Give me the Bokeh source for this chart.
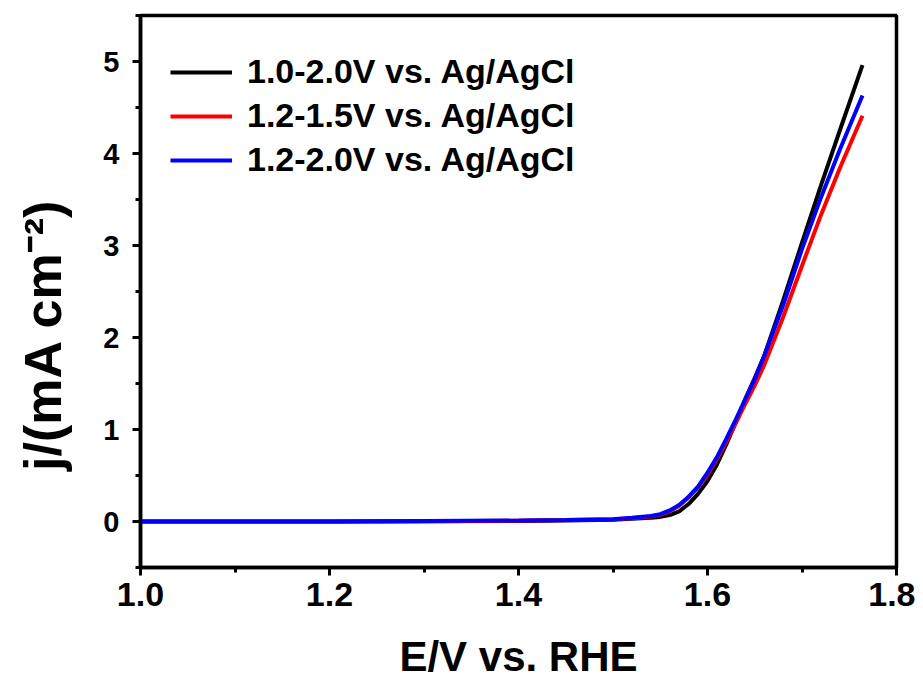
from bokeh.plotting import figure
from bokeh.models import FixedTicker, Range1d, PrintfTickFormatter, Legend, LegendItem
from bokeh.embed import file_html
from bokeh.resources import INLINE

# ---- data ----
E = [1.00, 1.10, 1.20, 1.30, 1.40, 1.45, 1.50, 1.52, 1.54, 1.55, 1.56, 1.57, 1.58,
     1.59, 1.60, 1.61, 1.62, 1.63, 1.64, 1.65, 1.66, 1.68, 1.70, 1.72, 1.74, 1.764]
j_black = [0.0, 0.0, 0.0, 0.003, 0.006, 0.01, 0.02, 0.03, 0.04, 0.05, 0.07, 0.11, 0.19,
           0.30, 0.44, 0.62, 0.84, 1.08, 1.33, 1.56, 1.80, 2.40, 3.03, 3.65, 4.25, 4.96]
j_red = [0.0, 0.0, 0.0, 0.004, 0.008, 0.015, 0.025, 0.035, 0.055, 0.075, 0.11, 0.17, 0.26,
         0.37, 0.51, 0.68, 0.87, 1.07, 1.28, 1.48, 1.70, 2.22, 2.78, 3.33, 3.84, 4.41]
j_blue = [0.0, 0.0, 0.0, 0.005, 0.01, 0.015, 0.025, 0.04, 0.06, 0.08, 0.12, 0.18, 0.27,
          0.38, 0.53, 0.70, 0.90, 1.11, 1.33, 1.55, 1.80, 2.35, 2.96, 3.52, 4.04, 4.63]
series_labels = ["1.0-2.0V vs. Ag/AgCl", "1.2-1.5V vs. Ag/AgCl", "1.2-2.0V vs. Ag/AgCl"]
series_colors = ["#000000", "#ff0000", "#0000ff"]

x_ticks = [1.0, 1.2, 1.4, 1.6, 1.8]
x_tick_labels = ["1.0", "1.2", "1.4", "1.6", "1.8"]
x_minor = [1.1, 1.3, 1.5, 1.7]
y_ticks = [0, 1, 2, 3, 4, 5]
y_tick_labels = ["0", "1", "2", "3", "4", "5"]
y_minor = [-0.5, 0.5, 1.5, 2.5, 3.5, 4.5, 5.5]
x_title = "E/V vs. RHE"
y_title = "j/(mA cm\u207b\u00b2)"

FONT = "Liberation Sans"

p = figure(width=915, height=684, output_backend="svg", toolbar_location=None,
           x_range=Range1d(1.0, 1.8), y_range=Range1d(-0.5, 5.5),
           min_border_left=140, min_border_right=19, min_border_top=15,
           min_border_bottom=117, background_fill_color="white",
           border_fill_color="white")
p.grid.visible = False
p.outline_line_color = "black"
p.outline_line_width = 3.5

renderers = []
for ys, c in zip([j_black, j_red, j_blue], series_colors):
    r = p.line(E, ys, line_color=c, line_width=4)
    renderers.append(r)

legend = Legend(items=[LegendItem(label=l, renderers=[r]) for l, r in zip(series_labels, renderers)],
                location=(30, 388), margin=0, padding=0, spacing=5,
                border_line_color=None, background_fill_alpha=0,
                glyph_width=62, glyph_height=38, label_height=38,
                label_standoff=15, label_text_font=FONT, label_text_font_style="bold",
                label_text_font_size="34px", label_text_color="black")
p.add_layout(legend)

xa = p.xaxis[0]
xa.ticker = FixedTicker(ticks=x_ticks, minor_ticks=x_minor)
xa.formatter = PrintfTickFormatter(format="%.1f")
xa.major_label_overrides = dict(zip(x_ticks, x_tick_labels))
xa.axis_label = x_title

ya = p.yaxis[0]
ya.ticker = FixedTicker(ticks=y_ticks, minor_ticks=y_minor)
ya.formatter = PrintfTickFormatter(format="%d")
ya.major_label_overrides = dict(zip(y_ticks, y_tick_labels))
# trailing no-break spaces shift the rotated title downward like the reference
ya.axis_label = y_title + "\u00a0" * 6

for ax in (xa, ya):
    ax.axis_line_width = 3.5
    ax.axis_line_color = "black"
    ax.major_tick_line_width = 3
    ax.minor_tick_line_width = 3
    ax.major_tick_in = 0
    ax.major_tick_out = 8
    ax.minor_tick_in = 0
    ax.minor_tick_out = 5
    ax.major_label_text_font = FONT
    ax.major_label_text_font_style = "bold"
    ax.major_label_text_color = "black"
    ax.axis_label_text_font = FONT
    ax.axis_label_text_font_style = "bold"
    ax.axis_label_text_color = "black"

xa.major_label_text_font_size = "34px"
xa.major_label_standoff = 7
xa.axis_label_text_font_size = "42px"
xa.axis_label_standoff = 24
ya.major_label_text_font_size = "29px"
ya.major_label_standoff = 13
ya.axis_label_text_font_size = "52px"
ya.axis_label_standoff = 28

open("out.html", "w").write(file_html(p, INLINE))
